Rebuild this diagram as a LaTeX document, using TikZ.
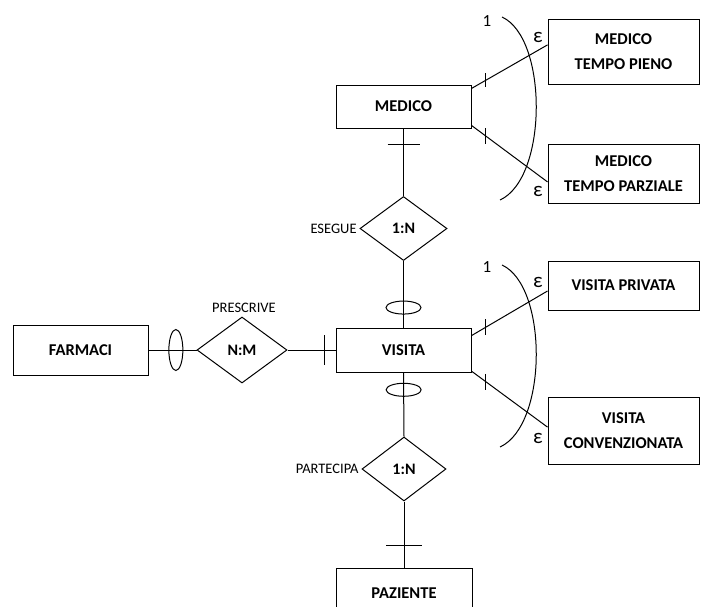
\documentclass[tikz,border=0pt]{standalone}
\usepackage{fontspec}
\setmainfont{Carlito}
\usetikzlibrary{shapes.geometric,calc}
\begin{document}
\begin{tikzpicture}[x=1pt,y=-1pt,line width=1pt,
  ent/.style={draw, rectangle, inner sep=0pt, align=center,
    font=\fontsize{16.5}{25}\selectfont\bfseries},
  rel/.style={draw, diamond, inner sep=0pt, minimum width=87pt, minimum height=64pt,
    font=\fontsize{16}{18}\selectfont\bfseries},
  lab/.style={font=\fontsize{14.5}{16}\selectfont, inner sep=0pt},
  card/.style={font=\fontsize{17}{18}\selectfont, inner sep=0pt},
  eps/.style={font=\fontsize{21}{22}\selectfont, inner sep=0pt}]
\useasboundingbox (0,0) rectangle (701,606);
% entities
\node[ent, minimum width=135pt, minimum height=43pt] (medico) at (403.5,106.5) {MEDICO};
\node[ent, minimum width=151pt, minimum height=65pt] (mtp) at (623.5,51.5) {MEDICO\\TEMPO PIENO};
\node[ent, minimum width=151pt, minimum height=59pt] (mtpz) at (623.5,173.5) {MEDICO\\TEMPO PARZIALE};
\node[ent, minimum width=135pt, minimum height=44pt] (visita) at (403.5,350) {VISITA};
\node[ent, minimum width=151pt, minimum height=49pt] (vp) at (623.5,285.5) {VISITA PRIVATA};
\node[ent, minimum width=151pt, minimum height=67pt] (vc) at (623.5,430.5) {VISITA\\CONVENZIONATA};
\node[ent, minimum width=135pt, minimum height=50pt] (farmaci) at (80.5,350) {FARMACI};
\node[ent, minimum width=136pt, minimum height=50pt] (paziente) at (404,593) {PAZIENTE};
% relationships
\node[rel] (esegue) at (403.5,228.5) {1:N};
\node[rel, minimum width=90pt, minimum height=66pt] (prescrive) at (242,350) {N:M};
\node[rel, minimum width=84pt] (partecipa) at (404,469) {1:N};
\node[lab, anchor=east] at (esegue.west) {ESEGUE\,};
\node[lab, anchor=east] at (partecipa.west) {PARTECIPA\,};
\node[lab, anchor=south] at ($(prescrive.north)+(2,-3)$) {PRESCRIVE};
% connectors
\draw (medico.south) -- coordinate[pos=0.23] (k1) (esegue.north);
\draw ($(k1)+(-16,0)$) -- ($(k1)+(16,0)$);
\draw (esegue.south) -- coordinate[pos=0.7] (o1) (visita.north);
\draw (o1) ellipse [x radius=17.5pt, y radius=6.5pt];
\draw (visita.south) -- coordinate[pos=0.27] (o2) (partecipa.north);
\draw (o2) ellipse [x radius=17.5pt, y radius=6.5pt];
\draw (partecipa.south) -- coordinate[pos=0.67] (k2) (paziente.north);
\draw ($(k2)+(-18,0)$) -- ($(k2)+(18,0)$);
\draw (farmaci.east) -- coordinate[pos=0.57] (o3) (prescrive.west);
\draw (o3) ellipse [x radius=7pt, y radius=20.5pt];
\draw (prescrive.east) -- coordinate[pos=0.78] (k3) (visita.west);
\draw ($(k3)+(0,-15)$) -- ($(k3)+(0,15)$);
% generalisation MEDICO
\coordinate (ma) at ($(medico.north east)!0.09!(medico.south east)$);
\coordinate (mb) at ($(mtp.north west)!0.4!(mtp.south west)$);
\coordinate (mc) at ($(medico.north east)!0.93!(medico.south east)$);
\coordinate (md) at ($(mtpz.north west)!0.64!(mtpz.south west)$);
\draw (ma) -- coordinate[pos=0.19] (t1) (mb);
\draw ($(t1)+(0,-7)$) -- ($(t1)+(0,7)$);
\draw (mc) -- coordinate[pos=0.19] (t2) (md);
\draw ($(t2)+(0,-8)$) -- ($(t2)+(0,8)$);
\coordinate (a1s) at (502,17);
\coordinate (a1e) at (500,200);
\draw (a1s) .. controls (548,38) and (548,178) .. (a1e);
\node[card] at (487,21) {1};
\node[eps] at (538,37) {ε};
\node[eps] at (538,191) {ε};
% generalisation VISITA
\coordinate (va) at ($(visita.north east)!0.18!(visita.south east)$);
\coordinate (vb) at ($(vp.north west)!0.61!(vp.south west)$);
\coordinate (vcc) at ($(visita.north east)!0.97!(visita.south east)$);
\coordinate (vd) at ($(vc.north west)!0.45!(vc.south west)$);
\draw (va) -- coordinate[pos=0.19] (t3) (vb);
\draw ($(t3)+(0,-8)$) -- ($(t3)+(0,8)$);
\draw (vcc) -- coordinate[pos=0.19] (t4) (vd);
\draw ($(t4)+(0,-8)$) -- ($(t4)+(0,8)$);
\coordinate (a2s) at (502,265);
\coordinate (a2e) at (500,447);
\draw (a2s) .. controls (548,286) and (548,425) .. (a2e);
\node[card] at (487,267) {1};
\node[eps] at (538,282) {ε};
\node[eps] at (538,438) {ε};
\end{tikzpicture}
\end{document}
